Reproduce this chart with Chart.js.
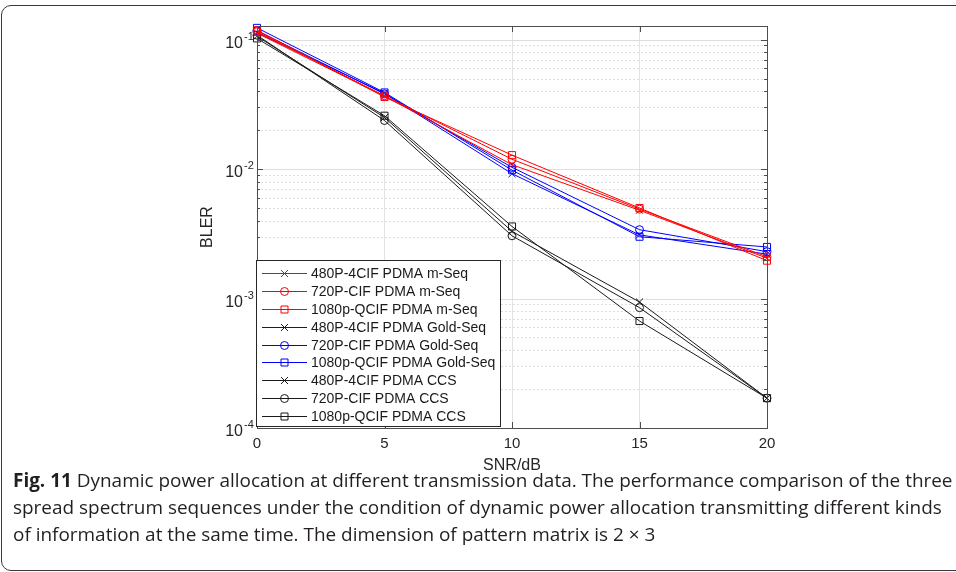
<!DOCTYPE html>
<html>
<head>
<meta charset="utf-8">
<script src="https://cdn.jsdelivr.net/npm/chart.js@4.4.1/dist/chart.umd.min.js"></script>
<style>
    body { margin: 0; background: #fff; width: 956px; height: 572px; overflow: hidden; position: relative; }
    #frame { position: absolute; left: 1px; top: 5px; width: 980px; height: 566px; border: 1.5px solid #3a3a3a; border-radius: 10px; box-sizing: border-box; }
    #wrap { position: absolute; left: 0; top: 0; width: 956px; height: 480px; }
    #caption { position: absolute; left: 13px; top: 467px; font-family: 'Open Sans', sans-serif; font-size: 19px; color: #231f20; transform-origin: 0 0; }
    #caption .row { white-space: nowrap; height: 27px; line-height: 27px; }
    #caption b { font-weight: 700; }
</style>
</head>
<body>
<div id="frame"></div>
<div id="wrap"><canvas id="chart" width="956" height="480"></canvas></div>
<div id="caption">
    <div class="row" id="firstRow"><b>Fig. 11</b> Dynamic power allocation at different transmission data. The performance comparison of the three</div>
    <div class="row">spread spectrum sequences under the condition of dynamic power allocation transmitting different kinds</div>
    <div class="row">of information at the same time. The dimension of pattern matrix is 2 × 3</div>
</div>
<script>
// data
const snr = [0, 5, 10, 15, 20];

const m480 = [0.112, 0.0365, 0.0108, 0.0048, 0.00205];
const m720 = [0.115, 0.0368, 0.0119, 0.0049, 0.0021];
const m1080 = [0.118, 0.0360, 0.0128, 0.0050, 0.00196];

const g480 = [0.113, 0.0385, 0.0092, 0.0031, 0.0022];
const g720 = [0.117, 0.0380, 0.0103, 0.0034, 0.0023];
const g1080 = [0.123, 0.0390, 0.0098, 0.0030, 0.00250];

const c480 = [0.106, 0.0250, 0.0033, 0.00094, 0.00017];
const c720 = [0.108, 0.0237, 0.00305, 0.00085, 0.00017];
const c1080 = [0.102, 0.0258, 0.0036, 0.00067, 0.00017];

const seriesNames = [
    '480P-4CIF PDMA m-Seq', '720P-CIF PDMA m-Seq', '1080p-QCIF PDMA m-Seq',
    '480P-4CIF PDMA Gold-Seq', '720P-CIF PDMA Gold-Seq', '1080p-QCIF PDMA Gold-Seq',
    '480P-4CIF PDMA CCS', '720P-CIF PDMA CCS', '1080p-QCIF PDMA CCS'
];
const yDecades = [-4, -3, -2, -1];
const xTicks = [0, 5, 10, 15, 20];

const RED = '#ff0000', BLUE = '#0000ff', BLACK = '#1a1a1a';
const FONT = "'Liberation Sans', Arial, sans-serif";

const seriesValues = [m480, m720, m1080, g480, g720, g1080, c480, c720, c1080];
const seriesColors = [RED, RED, RED, BLUE, BLUE, BLUE, BLACK, BLACK, BLACK];
const seriesMarkers = ['crossRot', 'circle', 'rect', 'crossRot', 'circle', 'rect', 'crossRot', 'circle', 'rect'];

function makeSet(i) {
    const color = seriesColors[i];
    const marker = seriesMarkers[i];
    return {
        label: seriesNames[i],
        data: snr.map((x, k) => ({ x: x, y: seriesValues[i][k] })),
        borderColor: color,
        backgroundColor: 'rgba(0,0,0,0)',
        borderWidth: 1,
        pointStyle: marker,
        pointRadius: marker === 'circle' ? 4 : 5,
        pointBorderWidth: 1,
        pointBorderColor: color,
        pointBackgroundColor: 'rgba(0,0,0,0)',
        tension: 0,
        clip: false
    };
}

const datasets = seriesNames.map((n, i) => makeSet(i));

function hline(ctx, x1, x2, y) {
    ctx.beginPath(); ctx.moveTo(x1, y); ctx.lineTo(x2, y); ctx.stroke();
}
function vline(ctx, x, y1, y2) {
    ctx.beginPath(); ctx.moveTo(x, y1); ctx.lineTo(x, y2); ctx.stroke();
}

// small marker for the legend rows
function legendMarker(ctx, style, cx, cy) {
    ctx.beginPath();
    if (style === 'circle') {
        ctx.arc(cx, cy, 4, 0, Math.PI * 2);
    } else if (style === 'rect') {
        ctx.rect(cx - 3.5, cy - 3.5, 7, 7);
    } else {
        ctx.moveTo(cx - 3.5, cy - 3.5); ctx.lineTo(cx + 3.5, cy + 3.5);
        ctx.moveTo(cx - 3.5, cy + 3.5); ctx.lineTo(cx + 3.5, cy - 3.5);
    }
    ctx.stroke();
}

// MATLAB style axes: log grid, inner ticks, box, labels, legend
const matlabAxes = {
    id: 'matlabAxes',
    beforeDatasetsDraw(chart) {
        const { ctx, chartArea: a, scales: { y } } = chart;
        ctx.save();
        ctx.lineWidth = 1;
        ctx.strokeStyle = '#dedede';
        yDecades.forEach(d => {
            for (let k = 1; k <= 9; k++) {
                const v = k * Math.pow(10, d);
                if (v < y.min || v > y.max) continue;
                const py = Math.round(y.getPixelForValue(v)) + 0.5;
                ctx.setLineDash(k === 1 ? [] : [2, 2]);
                hline(ctx, a.left, a.right, py);
            }
        });
        ctx.restore();
    },
    afterDraw(chart) {
        const { ctx, chartArea: a, scales: { x, y } } = chart;
        ctx.save();
        ctx.lineWidth = 1;
        ctx.strokeStyle = '#4d4d4d';
        ctx.setLineDash([]);

        // ticks
        yDecades.forEach(d => {
            for (let k = 1; k <= 9; k++) {
                const v = k * Math.pow(10, d);
                if (v < y.min || v > y.max) continue;
                const py = Math.round(y.getPixelForValue(v)) + 0.5;
                const len = k === 1 ? 6 : 3;
                hline(ctx, a.left, a.left + len, py);
                hline(ctx, a.right - len, a.right, py);
            }
        });
        xTicks.forEach(t => {
            const px = Math.round(x.getPixelForValue(t)) + 0.5;
            vline(ctx, px, a.bottom, a.bottom - 6);
            vline(ctx, px, a.top, a.top + 6);
        });

        // box
        ctx.strokeRect(Math.round(a.left) + 0.5, Math.round(a.top) + 0.5,
            Math.round(a.right - a.left), Math.round(a.bottom - a.top));

        // y tick labels 10^d
        ctx.fillStyle = '#262626';
        yDecades.forEach(d => {
            const py = y.getPixelForValue(Math.pow(10, d));
            ctx.font = '16px ' + FONT;
            ctx.textAlign = 'right';
            ctx.textBaseline = 'alphabetic';
            ctx.fillText('10', a.left - 14, py + 8);
            ctx.font = '11px ' + FONT;
            ctx.textAlign = 'left';
            ctx.fillText(String(d), a.left - 13, py);
        });

        // axis titles
        ctx.font = '16px ' + FONT;
        ctx.textAlign = 'center';
        ctx.textBaseline = 'middle';
        ctx.fillText('SNR/dB', (a.left + a.right) / 2, 466);
        ctx.save();
        ctx.translate(208, 227);
        ctx.rotate(-Math.PI / 2);
        ctx.fillText('BLER', 0, 0);
        ctx.restore();

        // legend
        const lx = 256.5, ly = 260.5, lw = 244, lh = 166;
        ctx.fillStyle = '#ffffff';
        ctx.fillRect(lx, ly, lw, lh);
        ctx.strokeStyle = '#262626';
        ctx.strokeRect(lx, ly, lw, lh);
        seriesNames.forEach((name, i) => {
            const ry = Math.round(273.3 + i * 17.8) + 0.5;
            ctx.lineWidth = 1;
            ctx.strokeStyle = seriesColors[i];
            hline(ctx, 262, 307, ry);
            legendMarker(ctx, seriesMarkers[i], 284.5, ry);
            ctx.font = '14px ' + FONT;
            ctx.textAlign = 'left';
            ctx.textBaseline = 'middle';
            ctx.fillStyle = '#1a1a1a';
            ctx.fillText(name, 311, ry + 1);
        });
        ctx.restore();
    }
};

new Chart(document.getElementById('chart'), {
    type: 'line',
    data: { datasets: datasets },
    options: {
        responsive: false,
        animation: false,
        layout: { padding: { left: 0, top: 26, right: 189, bottom: 0 } },
        plugins: { legend: { display: false }, tooltip: { enabled: false } },
        scales: {
            x: {
                type: 'linear',
                min: 0,
                max: 20,
                afterBuildTicks: s => { s.ticks = xTicks.map(v => ({ value: v })); },
                afterFit: s => { s.height = 52; },
                grid: { color: '#e3e3e3', drawTicks: false },
                border: { display: false },
                ticks: { padding: 7, color: '#262626', font: { family: FONT, size: 15 } }
            },
            y: {
                type: 'logarithmic',
                min: 1e-4,
                max: 0.1272,
                afterFit: s => { s.width = 257; },
                grid: { display: false },
                border: { display: false },
                ticks: { display: false }
            }
        }
    },
    plugins: [matlabAxes]
});

// squeeze caption to the width used in the figure
const cap = document.getElementById('caption');
const w = document.getElementById('firstRow').scrollWidth;
cap.style.transform = 'scaleX(' + (940 / w) + ')';
</script>
</body>
</html>
